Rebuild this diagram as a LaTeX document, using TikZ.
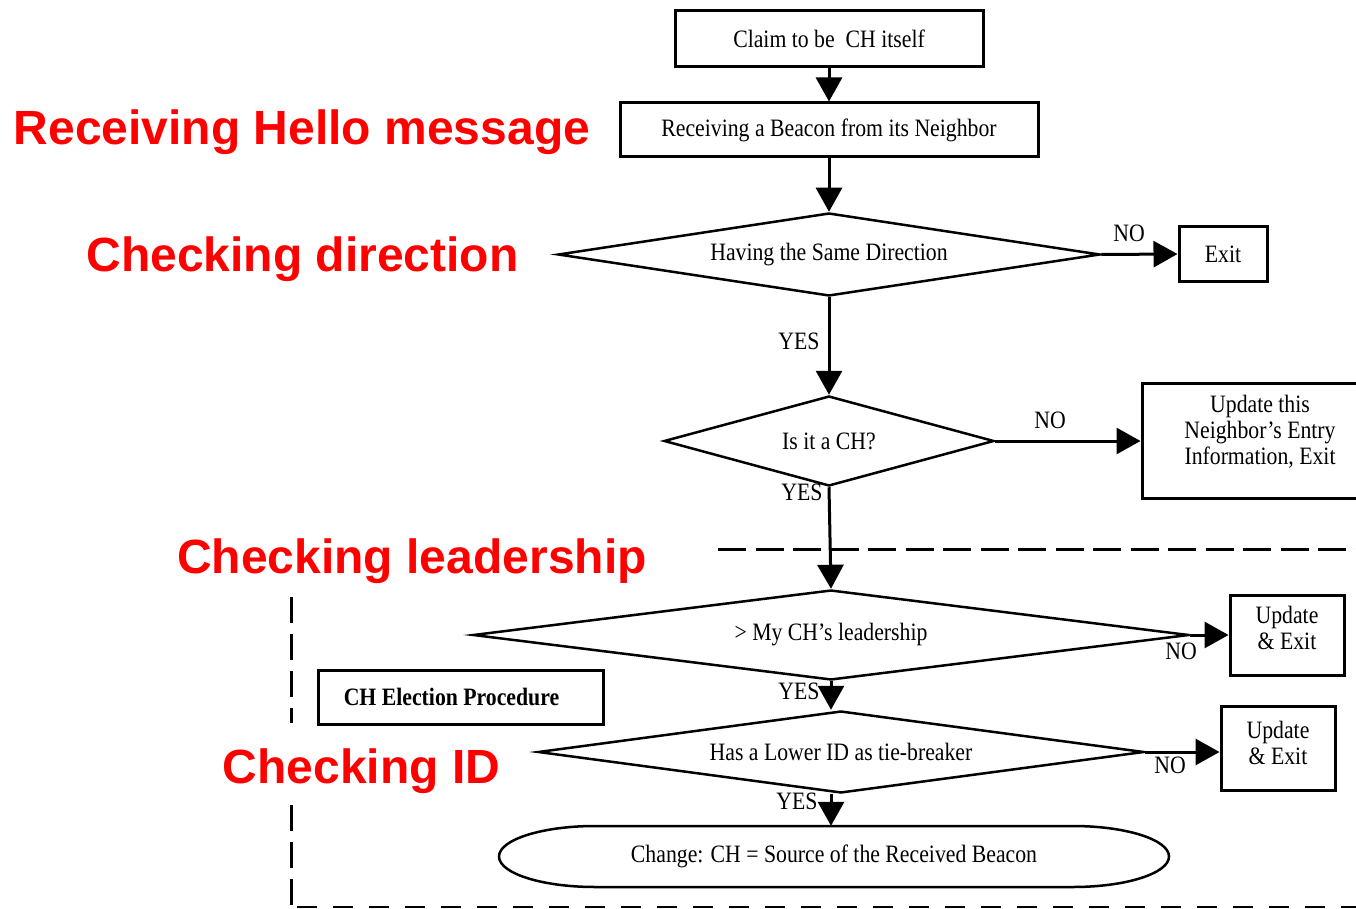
\documentclass[tikz,border=0pt]{standalone}
\usepackage{fontspec}
\setmainfont{Liberation Serif}[FakeStretch=0.87]
\newfontfamily\redsans{Liberation Sans}
\usetikzlibrary{shapes.geometric,arrows.meta}
\newcommand\stk[2]{\raisebox{#1}[0pt][0pt]{\begin{tabular}{@{}c@{}}#2\end{tabular}}}
\begin{document}
\begin{tikzpicture}[x=1pt,y=-1pt,
  blk/.style={font=\fontsize{25}{26}\selectfont},
  box/.style={draw, line width=3pt, inner sep=0pt, align=center, blk},
  dia/.style={diamond, draw, line width=2.5pt, inner sep=0pt, blk},
  arr/.style={line width=3pt, -{Triangle[length=24pt,width=26pt]}},
  lbl/.style={inner sep=0pt, blk},
  phase/.style={inner sep=0pt, text=red, font=\redsans\bfseries\fontsize{48}{54}\selectfont},
  bound/.style={line width=3pt}]
\clip (0,0) rectangle (1356,909);
\fill[white] (0,0) rectangle (1356,909);

% boxes
\node[box, minimum width=308pt, minimum height=56pt] (b1) at (829,39) {Claim to be\ \ CH itself};
\node[box, minimum width=418pt, minimum height=54pt] (b2) at (829,130) {Receiving a Beacon from its Neighbor};
\node[box, minimum width=88pt, minimum height=54pt] (exit) at (1223,254) {Exit};
\node[box, minimum width=236pt, minimum height=115pt] (upd) at (1260,441) {\stk{1.25pt}{Update this\\Neighbor’s Entry\\Information, Exit}};
\node[box, minimum width=114pt, minimum height=80pt] (upd1) at (1287,635) {\stk{-2.25pt}{Update\\\& Exit}};
\node[box, minimum width=114pt, minimum height=84pt] (upd2) at (1278,748) {\stk{-4.5pt}{Update\\\& Exit}};
\node[box, minimum width=285pt, minimum height=54pt, font=\fontsize{25}{26}\selectfont\bfseries] (che) at (460.5,697) {CH Election Procedure\hspace*{18pt}};

% diamonds
\node[dia, aspect=6.5, minimum width=542pt, minimum height=83pt] (d1) at (829,254.5) {Having the Same Direction};
\node[dia, aspect=3.7, minimum width=330pt, minimum height=90pt] (d2) at (829,441) {Is it a CH?};
\node[dia, aspect=8, minimum width=716pt, minimum height=90pt] (d3) at (831,635) {> My CH’s leadership};
\node[dia, aspect=7.4, minimum width=606pt, minimum height=82pt] (d4) at (841,752) {Has a Lower ID as tie-breaker};

% terminal
\node[lbl, minimum width=670pt, minimum height=61pt] (ell) at (834,856.5) {Change: CH = Source of the Received Beacon};
\draw[line width=2.5pt] (499,856.5) .. controls (499,839.7) and (542,826) .. (595,826) -- (1073,826)
  .. controls (1126,826) and (1169,839.7) .. (1169,856.5) .. controls (1169,873.3) and (1126,887) .. (1073,887)
  -- (595,887) .. controls (542,887) and (499,873.3) .. (499,856.5) -- cycle;

% connectors
\draw[arr] (b1) -- (b2);
\draw[arr] (b2) -- (d1);
\draw[arr] (d1.east) -- (exit.west);
\draw[arr] (d1) -- (d2);
\draw[arr] (d2.east) -- (upd.west);
\draw[arr] (d2.south) -- (d3.north);
\draw[arr] (d3.east) -- (d3.east -| upd1.west);
\draw[arr] (d3.south) -- (d3.south |- d4.north);
\draw[arr] (d4.east) -- (d4.east -| upd2.west);
\coordinate (d4b) at (d3.south |- d4.south);
\draw[arr] (d4b) -- (d4b |- ell.north);

% connector labels
\node[lbl] (n1) at (1129,233) {NO};
\node[lbl] (y1) at (799,341) {YES};
\node[lbl] (n2) at (1050,420) {NO};
\node[lbl] (y2) at (802,492) {YES};
\node[lbl] (n3) at (1181,651) {NO};
\node[lbl] (y3) at (799,691) {YES};
\node[lbl] (n4) at (1170,765) {NO};
\node[lbl] (y4) at (797,801) {YES};

% phase boundaries
\draw[bound, dash pattern=on 28pt off 9.5pt] (718,549) -- (1356,549);
\draw[bound, dash pattern=on 26pt off 11pt] (291,597) -- (291,723);
\draw[bound, dash pattern=on 26pt off 11pt] (291,805) -- (291,905);
\draw[line width=2pt, dash pattern=on 20pt off 16pt] (297,907) -- (1356,907);

% phase titles
\node[phase] (p1) at (302,132) {Receiving Hello message};
\node[phase] (p2) at (302.5,259) {Checking direction};
\node[phase] (p3) at (412,561) {Checking leadership};
\node[phase] (p4) at (361.5,771) {Checking ID};
\end{tikzpicture}
\end{document}
